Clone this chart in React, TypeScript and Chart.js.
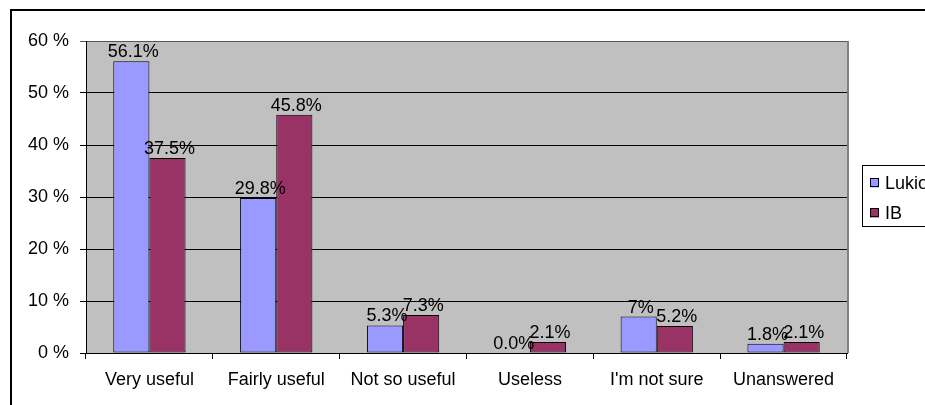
import React, { useEffect, useRef } from "react";
import { Chart, registerables } from "chart.js";

Chart.register(...registerables);

// Survey answers: how useful the respondents found it
const categories = ["Very useful", "Fairly useful", "Not so useful", "Useless", "I'm not sure", "Unanswered"];
// Shares in percent, kept as the printed figures so the labels read exactly as stated
const lukioValues = ["56.1", "29.8", "5.3", "0.0", "7", "1.8"];
const ibValues = ["37.5", "45.8", "7.3", "2.1", "5.2", "2.1"];
const seriesNames = ["Lukio", "IB"];
const yTicks = [0, 10, 20, 30, 40, 50, 60];

const FONT = "'Liberation Sans', Arial, sans-serif";
const COLORS = ["#9999FF", "#993366"];

const plotBackground = {
  id: "plotBackground",
  beforeDraw(chart: any) {
    const { ctx, chartArea } = chart;
    ctx.save();
    ctx.fillStyle = "#C0C0C0";
    ctx.fillRect(chartArea.left, chartArea.top, chartArea.right - chartArea.left, chartArea.bottom - chartArea.top);
    ctx.restore();
  },
  afterDraw(chart: any) {
    const { ctx, chartArea } = chart;
    ctx.save();
    // plot-area frame on the right
    ctx.strokeStyle = "#808080";
    ctx.lineWidth = 2;
    ctx.beginPath();
    ctx.moveTo(chartArea.right + 1, chartArea.top);
    ctx.lineTo(chartArea.right + 1, chartArea.bottom);
    ctx.stroke();
    // outer chart frame
    ctx.strokeStyle = "#000";
    ctx.lineWidth = 2;
    ctx.beginPath();
    ctx.moveTo(11, 405);
    ctx.lineTo(11, 10);
    ctx.lineTo(930, 10);
    ctx.stroke();
    ctx.restore();
  },
};

const valueLabels = {
  id: "valueLabels",
  afterDatasetsDraw(chart: any) {
    const { ctx } = chart;
    ctx.save();
    ctx.font = `18px ${FONT}`;
    ctx.fillStyle = "#000";
    ctx.textAlign = "center";
    ctx.textBaseline = "alphabetic";
    const texts = [lukioValues, ibValues];
    chart.data.datasets.forEach((_ds: any, di: number) => {
      const meta = chart.getDatasetMeta(di);
      meta.data.forEach((bar: any, i: number) => {
        ctx.fillText(texts[di][i] + "%", bar.x + 2, bar.y - 4);
      });
    });
    ctx.restore();
  },
};

const sideLegend = {
  id: "sideLegend",
  afterDraw(chart: any) {
    const { ctx } = chart;
    ctx.save();
    ctx.fillStyle = "#fff";
    ctx.fillRect(862, 165, 100, 61);
    ctx.strokeStyle = "#000";
    ctx.lineWidth = 1;
    ctx.strokeRect(862.5, 165.5, 100, 61);
    ctx.font = `18px ${FONT}`;
    ctx.textBaseline = "middle";
    ctx.textAlign = "left";
    chart.data.datasets.forEach((ds: any, i: number) => {
      const cy = 183 + i * 30;
      ctx.fillStyle = ds.backgroundColor;
      ctx.fillRect(870, cy - 4.5, 9, 9);
      ctx.strokeStyle = "#000";
      ctx.strokeRect(870.5, cy - 4.5, 8, 8);
      ctx.fillStyle = "#000";
      ctx.fillText(ds.label, 885, cy + 1);
    });
    ctx.restore();
  },
};

export default function App() {
  const canvasRef = useRef<HTMLCanvasElement>(null);

  useEffect(() => {
    if (!canvasRef.current) return;
    const chart = new Chart(canvasRef.current, {
      type: "bar",
      data: {
        labels: categories,
        datasets: [lukioValues, ibValues].map((vals, i) => ({
          label: seriesNames[i],
          data: vals.map((v) => parseFloat(v)),
          backgroundColor: COLORS[i],
          borderColor: "#000",
          borderWidth: 1,
          borderSkipped: false,
          categoryPercentage: 0.57,
          barPercentage: 1.0,
        })),
      },
      options: {
        animation: false,
        responsive: false,
        maintainAspectRatio: false,
        layout: { padding: { left: 0, top: 41, right: 78, bottom: 0 } },
        plugins: {
          legend: { display: false },
          tooltip: { enabled: false },
        },
        scales: {
          x: {
            afterFit: (scale: any) => {
              scale.height = 52;
            },
            grid: {
              offset: true,
              drawOnChartArea: false,
              drawTicks: true,
              tickLength: 6,
              color: "#000",
            },
            border: { display: true, color: "#000", width: 1 },
            ticks: {
              color: "#000",
              font: { family: FONT, size: 18 },
              padding: 10,
              maxRotation: 0,
              autoSkip: false,
            },
          },
          y: {
            min: yTicks[0],
            max: yTicks[yTicks.length - 1],
            afterFit: (scale: any) => {
              scale.width = 86;
            },
            afterBuildTicks: (scale: any) => {
              scale.ticks = yTicks.map((v) => ({ value: v }));
            },
            grid: {
              color: (c: any) => (c.tick && c.tick.value === 60 ? "#555" : "#000"),
              lineWidth: 1,
              drawTicks: true,
              tickLength: 6,
            },
            border: { display: true, color: "#000", width: 1 },
            ticks: {
              color: "#000",
              font: { family: FONT, size: 18 },
              padding: 11,
              callback: (v: any) => `${v} %`,
            },
          },
        },
      },
      plugins: [plotBackground, valueLabels, sideLegend],
    });
    return () => chart.destroy();
  }, []);

  return (
    <div style={{ position: "fixed", left: 0, top: 0, width: 925, height: 405, background: "#fff" }}>
      <canvas ref={canvasRef} width={925} height={405} style={{ display: "block" }} />
    </div>
  );
}
